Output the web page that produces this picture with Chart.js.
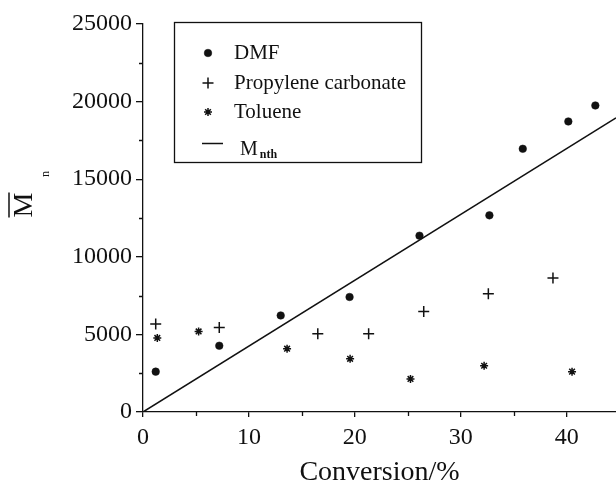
<!DOCTYPE html>
<html>
<head>
<meta charset="utf-8">
<script src="https://cdn.jsdelivr.net/npm/chart.js@4/dist/chart.umd.min.js"></script>
<style>
html,body{margin:0;padding:0;background:#fff;}
#wrap{width:616px;height:487px;position:relative;}
</style>
</head>
<body>
<div id="wrap"><canvas id="c" width="616" height="487"></canvas></div>
<script>
// ---- data ----
const seriesNames = ["DMF", "Propylene carbonate", "Toluene", "M"];
const dmfConv  = [1.2, 7.2, 13.0, 19.5, 26.1, 32.7, 35.85, 40.15, 42.7];
const dmfMn    = [2600, 4270, 6220, 7410, 11360, 12670, 16960, 18720, 19750];
const pcConv   = [1.2, 7.2, 16.5, 21.3, 26.5, 32.6, 38.7];
const pcMn     = [5670, 5450, 5045, 5045, 6480, 7620, 8630];
const tolConv  = [1.35, 5.25, 13.6, 19.55, 25.25, 32.2, 40.5];
const tolMn    = [4770, 5190, 4080, 3430, 2130, 2980, 2600];
const thConv   = [0, 44.65];
const thMn     = [0, 18950];
const xTicks   = [0, 10, 20, 30, 40];
const yTicks   = [0, 5000, 10000, 15000, 20000, 25000];
const xMinor   = [5, 15, 25, 35];
const yMinor   = [2500, 7500, 12500, 17500, 22500];

const pts = (xs, ys) => xs.map((x, i) => ({x: x, y: ys[i]}));
const INK = '#111';
const SERIF = '"Liberation Serif", "Times New Roman", serif';

const decorPlugin = {
  id: 'decor',
  afterDraw(chart) {
    const ctx = chart.ctx;
    const xs = chart.scales.x, ys = chart.scales.y;
    const ca = chart.chartArea;
    ctx.save();
    // minor ticks
    ctx.strokeStyle = INK; ctx.lineWidth = 1.3;
    ctx.beginPath();
    yMinor.forEach(v => { const p = Math.round(ys.getPixelForValue(v)) + 0.5; ctx.moveTo(ca.left - 4, p); ctx.lineTo(ca.left, p); });
    xMinor.forEach(v => { const p = Math.round(xs.getPixelForValue(v)) + 0.5; ctx.moveTo(p, ca.bottom); ctx.lineTo(p, ca.bottom + 4); });
    ctx.stroke();

    // y axis title: M with overbar and subscript n (rotated)
    ctx.save();
    ctx.translate(32, 205);
    ctx.rotate(-Math.PI / 2);
    ctx.fillStyle = INK;
    ctx.font = '28px ' + SERIF;
    ctx.textAlign = 'center';
    ctx.textBaseline = 'alphabetic';
    ctx.fillText('M', 0, 0);
    const mw = ctx.measureText('M').width;
    ctx.lineWidth = 1.5;
    ctx.beginPath(); ctx.moveTo(-mw / 2, -23); ctx.lineTo(mw / 2, -23); ctx.stroke();
    ctx.font = '12px ' + SERIF;
    ctx.textAlign = 'left';
    ctx.fillText('n', 28, 17);
    ctx.restore();

    // legend box
    ctx.strokeStyle = INK; ctx.lineWidth = 1.3;
    ctx.strokeRect(174.5, 22.5, 247, 140);
    const rows = [53, 83, 112, 143];
    const mx = 208, tx = 234;
    ctx.fillStyle = INK;
    ctx.textBaseline = 'middle';
    ctx.textAlign = 'left';
    chart.data.datasets.forEach((ds, i) => {
      const y = rows[i];
      if (i < 3) {
        ctx.save();
        ctx.fillStyle = ds.backgroundColor; ctx.strokeStyle = ds.borderColor; ctx.lineWidth = ds.borderWidth;
        Chart.helpers.drawPoint(ctx, {pointStyle: ds.pointStyle, radius: ds.pointRadius, borderWidth: ds.borderWidth, rotation: 0}, mx, y);
        ctx.restore();
        ctx.font = '21px ' + SERIF;
        ctx.fillText(ds.label, tx, y);
      } else {
        ctx.beginPath(); ctx.lineWidth = 1.5; ctx.moveTo(202, y + 0.5); ctx.lineTo(223, y + 0.5); ctx.stroke();
        ctx.textBaseline = 'alphabetic';
        ctx.font = '20px ' + SERIF;
        ctx.fillText(ds.label, 240, 155);
        const w = ctx.measureText(ds.label).width;
        ctx.font = 'bold 12px ' + SERIF;
        ctx.fillText('nth', 240 + w + 2, 158);
      }
    });
    ctx.restore();
  }
};

new Chart(document.getElementById('c'), {
  type: 'scatter',
  data: {
    datasets: [
      {label: seriesNames[0], data: pts(dmfConv, dmfMn), pointStyle: 'circle', pointRadius: 3.8, backgroundColor: INK, borderColor: INK, borderWidth: 0.5},
      {label: seriesNames[1], data: pts(pcConv, pcMn), pointStyle: 'cross', pointRadius: 5.5, backgroundColor: INK, borderColor: INK, borderWidth: 1.5},
      {label: seriesNames[2], data: pts(tolConv, tolMn), pointStyle: 'star', pointRadius: 4, backgroundColor: INK, borderColor: INK, borderWidth: 1.5},
      {label: seriesNames[3], type: 'line', data: pts(thConv, thMn), showLine: true, pointRadius: 0, borderColor: INK, borderWidth: 1.5, fill: false, tension: 0}
    ]
  },
  options: {
    responsive: false,
    animation: false,
    devicePixelRatio: 1,
    layout: {autoPadding: false, padding: {top: 24, right: 0, left: 0, bottom: 0}},
    plugins: {legend: {display: false}, tooltip: {enabled: false}},
    scales: {
      x: {
        type: 'linear', min: 0, max: 44.65,
        afterBuildTicks: s => { s.ticks = xTicks.map(v => ({value: v})); },
        afterFit: s => { s.height = 75; s.paddingLeft = 0; s.paddingRight = 0; },
        ticks: {font: {family: SERIF, size: 24}, color: INK, padding: 6, maxRotation: 0, callback: v => String(v)},
        grid: {drawOnChartArea: false, drawTicks: true, tickLength: 5, color: INK, lineWidth: 1.3},
        border: {display: true, color: INK, width: 1.3},
        title: {display: true, text: 'Conversion/%', font: {family: SERIF, size: 28, lineHeight: 1}, color: INK, padding: {top: 0, bottom: 0}}
      },
      y: {
        type: 'linear', min: 0, max: 25000,
        afterBuildTicks: s => { s.ticks = yTicks.map(v => ({value: v})); },
        afterFit: s => { s.width = 143; s.paddingTop = 0; s.paddingBottom = 0; },
        ticks: {font: {family: SERIF, size: 24}, color: INK, padding: 4, callback: v => String(v)},
        grid: {drawOnChartArea: false, drawTicks: true, tickLength: 7, color: INK, lineWidth: 1.3},
        border: {display: true, color: INK, width: 1.3}
      }
    }
  },
  plugins: [decorPlugin]
});
</script>
</body>
</html>
